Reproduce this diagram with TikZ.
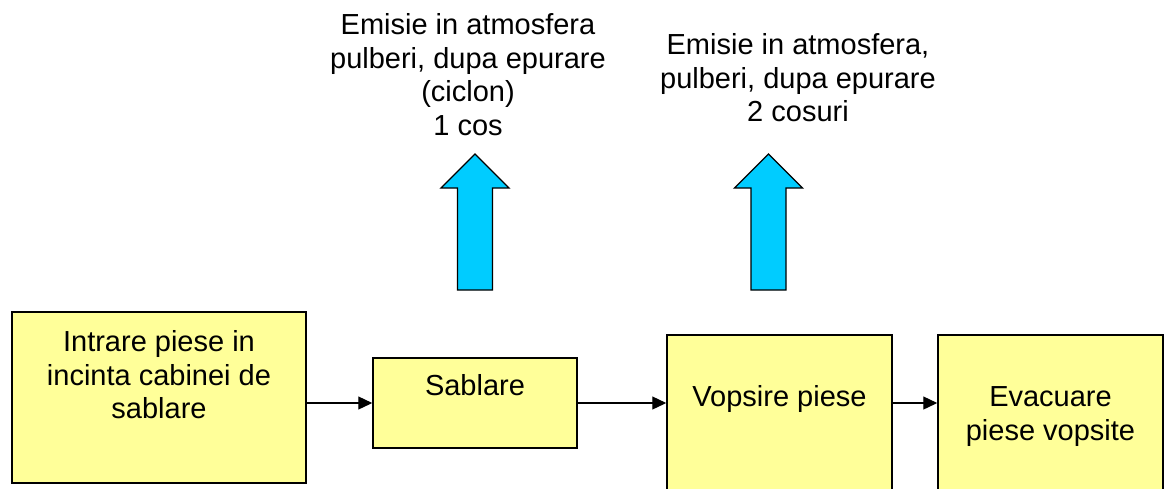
\documentclass[tikz,border=0pt]{standalone}
\usepackage{fontspec}
\setmainfont{Liberation Sans}
\usetikzlibrary{arrows.meta}

\definecolor{boxyellow}{HTML}{FFFF99}
\definecolor{emisblue}{HTML}{00CCFF}

\tikzset{
    stage/.style={draw=black, line width=1.5pt, fill=boxyellow, rectangle, inner sep=0pt},
    stagetext/.style={anchor=north, align=center, inner sep=0pt, font=\fontsize{29}{33.5}\selectfont},
    flow/.style={-{Triangle[length=14pt,width=13pt]}, line width=1.3pt},
    emission/.style={draw=black, line width=1.3pt, fill=emisblue, line join=miter}
}

\begin{document}
\begin{tikzpicture}[x=1pt,y=-1pt]
    \useasboundingbox (0,0) rectangle (1168,488);
    \clip (0,0) rectangle (1168,488);

    % process boxes
    \node[stage, minimum width=294pt, minimum height=171pt] (intrare) at (159,397.5) {};
    \node[stage, minimum width=204pt, minimum height=90pt] (sablare) at (475,403) {};
    \node[stage, minimum width=225pt, minimum height=185pt] (vopsire) at (779.5,427.5) {};
    \node[stage, minimum width=225pt, minimum height=185pt] (evacuare) at (1050.5,427.5) {};

    \node[stagetext] (intrare-txt) at (159,328.2) {\strut Intrare piese in\\incinta cabinei de\\sablare};
    \node[stagetext] (sablare-txt) at (475,372.2) {\strut Sablare};
    \node[stagetext] (vopsire-txt) at (779.5,383.2) {\strut Vopsire piese};
    \node[stagetext] (evacuare-txt) at (1050.5,383.2) {\strut Evacuare\\piese vopsite};

    % flow between stages
    \draw[flow] (intrare.east |- sablare.west) -- (sablare.west);
    \draw[flow] (sablare.east) -- (sablare.east -| vopsire.west);
    \draw[flow] (vopsire.east |- sablare.east) -- (evacuare.west |- sablare.east);

    % emission arrows
    \foreach \cx in {475,768.5} {
        \draw[emission] ({\cx-17.5},290) -- ({\cx-17.5},188) -- ({\cx-34},188) -- (\cx,154)
            -- ({\cx+34},188) -- ({\cx+17.5},188) -- ({\cx+17.5},290) -- cycle;
    }

    % emission labels
    \node[stagetext] (emis1) at (468,11.2) {\strut Emisie in atmosfera\\pulberi, dupa epurare\\(ciclon)\\1 cos};
    \node[stagetext] (emis2) at (798,31.2) {\strut Emisie in atmosfera,\\pulberi, dupa epurare\\2 cosuri};
\end{tikzpicture}
\end{document}
